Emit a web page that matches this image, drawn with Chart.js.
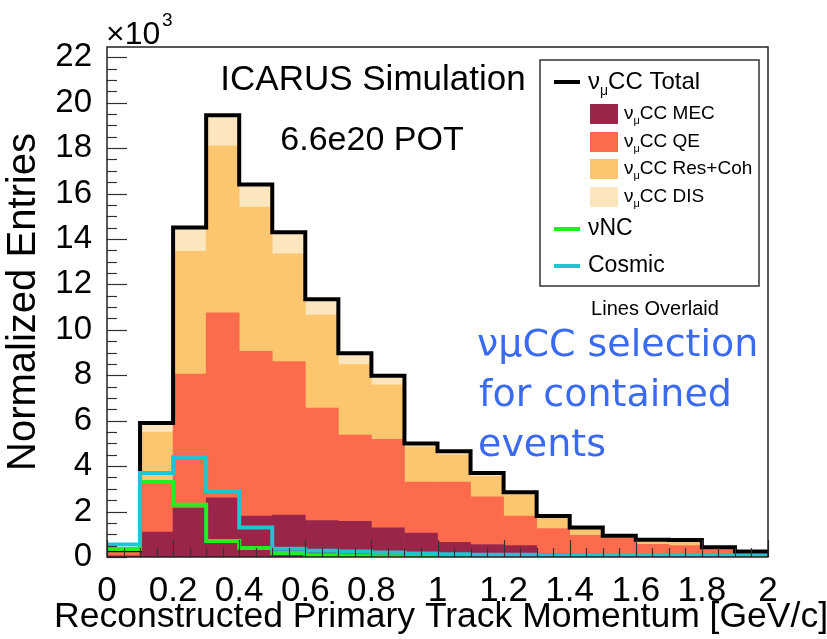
<!DOCTYPE html>
<html>
<head>
<meta charset="utf-8">
<title>ICARUS numu CC momentum</title>
<script src="https://cdn.jsdelivr.net/npm/chart.js@4.4.1/dist/chart.umd.min.js"></script>
<style>
  html, body { margin: 0; padding: 0; background: #fff; }
  canvas { display: block; }
</style>
</head>
<body>
<canvas id="momentumChart" width="827" height="639"></canvas>
<script>
// lower bin edges of the reconstructed momentum [GeV/c]
const binLow = [0.0, 0.1, 0.2, 0.3, 0.4, 0.5, 0.6, 0.7, 0.8, 0.9,
                1.0, 1.1, 1.2, 1.3, 1.4, 1.5, 1.6, 1.7, 1.8, 1.9];
const binWidth = 0.1;
const yTickValues = [0, 2, 4, 6, 8, 10, 12, 14, 16, 18, 20, 22];

// entries per bin, x10^3
const mecCC    = [0.05, 1.1, 2.15, 2.6, 1.8, 1.85, 1.6, 1.57, 1.28, 1.05, 0.65, 0.55, 0.5, 0.15, 0.1, 0.08, 0.06, 0.05, 0.03, 0.02];
const qeCC     = [0.15, 2.2, 5.9, 8.15, 7.25, 6.75, 4.95, 3.8, 3.9, 2.25, 2.65, 2.1, 1.3, 1.1, 0.85, 0.75, 0.5, 0.45, 0.3, 0.12];
const resCohCC = [0.1, 2.2, 5.4, 7.35, 6.35, 4.75, 4.1, 3.1, 2.4, 1.55, 1.2, 0.9, 0.95, 0.45, 0.3, 0.1, 0.2, 0.25, 0.1, 0.1];
const disCC    = [0.0, 0.4, 1.05, 1.35, 1.0, 0.95, 0.7, 0.5, 0.4, 0.15, 0.15, 0.15, 0.1, 0.1, 0.05, 0.0, 0.0, 0.0, 0.0, 0.0];
const totalCC  = [0.3, 5.9, 14.5, 19.45, 16.4, 14.3, 11.35, 8.97, 7.98, 5.0, 4.65, 3.7, 2.85, 1.8, 1.3, 0.93, 0.76, 0.75, 0.43, 0.24];
const ncLine     = [0.35, 3.3, 2.3, 0.7, 0.4, 0.18, 0.08, 0.05, 0.03, 0.02, 0.01, 0.01, 0, 0, 0, 0, 0, 0, 0, 0];
const cosmicLine = [0.55, 3.7, 4.4, 2.9, 1.3, 0.36, 0.28, 0.24, 0.2, 0.15, 0.12, 0.1, 0.1, 0.08, 0.07, 0.06, 0.05, 0.05, 0.05, 0.04];

const yMax = 22.45;
const FONT = '"Liberation Sans", Arial, Helvetica, sans-serif';

function barData(vals) {
  return binLow.map((lo, i) => ({ x: lo + binWidth / 2, y: vals[i] }));
}

// histogram outline: one point per left edge, last value carried to the upper edge
function stepData(vals) {
  const pts = binLow.map((lo, i) => ({ x: lo, y: vals[i] }));
  pts.push({ x: binLow[binLow.length - 1] + binWidth, y: vals[vals.length - 1] });
  return pts;
}

function barSet(label, vals, color, order) {
  return {
    type: 'bar', label, data: barData(vals), backgroundColor: color,
    borderWidth: 0, barPercentage: 1, categoryPercentage: 1,
    yAxisID: 'y', order
  };
}

function lineSet(label, vals, color, order) {
  return {
    type: 'line', label, data: stepData(vals), borderColor: color,
    borderWidth: 4, stepped: 'before', pointRadius: 0, fill: false,
    yAxisID: 'yLine', order
  };
}

const datasets = [
  lineSet('νμCC Total', totalCC, '#000000', 2),
  barSet('νμCC MEC', mecCC, '#9a2549', 3),
  barSet('νμCC QE', qeCC, '#fc6c4c', 4),
  barSet('νμCC Res+Coh', resCohCC, '#fcc66e', 5),
  barSet('νμCC DIS', disCC, '#fde6bd', 6),
  lineSet('νNC', ncLine, '#22ee22', 1),
  lineSet('Cosmic', cosmicLine, '#22c4d2', 0)
];

// label text with a "νμ" prefix gets the μ drawn as a subscript
function drawLabel(ctx, text, x, y, size) {
  ctx.font = size + 'px ' + FONT;
  ctx.textBaseline = 'middle';
  ctx.textAlign = 'left';
  if (text.startsWith('νμ')) {
    ctx.fillText('ν', x, y);
    x += ctx.measureText('ν').width;
    ctx.font = Math.round(size * 0.6) + 'px ' + FONT;
    ctx.fillText('μ', x, y + size * 0.38);
    x += ctx.measureText('μ').width;
    ctx.font = size + 'px ' + FONT;
    ctx.fillText(text.slice(2), x, y);
  } else {
    ctx.fillText(text, x, y);
  }
}

const frameAndTicks = {
  id: 'frameAndTicks',
  afterDatasetsDraw(chart) {
    const { ctx, chartArea: a, scales: { x, y } } = chart;
    ctx.save();
    ctx.strokeStyle = '#333';
    ctx.lineWidth = 1.2;
    for (let k = 0; k <= 44; k++) {
      const py = Math.round(y.getPixelForValue(k * 0.5)) + 0.5;
      ctx.beginPath();
      ctx.moveTo(a.left, py);
      ctx.lineTo(a.left + (k % 4 === 0 ? 20 : 10), py);
      ctx.stroke();
    }
    for (let k = 0; k <= 40; k++) {
      const px = Math.round(x.getPixelForValue(k * 0.05)) + 0.5;
      ctx.beginPath();
      ctx.moveTo(px, a.bottom);
      ctx.lineTo(px, a.bottom - (k % 4 === 0 ? 17 : 9));
      ctx.stroke();
    }
    ctx.lineWidth = 1.5;
    ctx.strokeStyle = '#222';
    ctx.strokeRect(a.left, a.top, a.right - a.left, a.bottom - a.top);
    ctx.restore();
  }
};

const annotations = {
  id: 'annotations',
  afterDraw(chart) {
    const ctx = chart.ctx;
    const ds = chart.data.datasets;
    ctx.save();
    ctx.fillStyle = '#000';

    // axis multiplier
    ctx.font = '32px ' + FONT;
    ctx.textBaseline = 'alphabetic';
    ctx.textAlign = 'left';
    ctx.fillText('×10', 106, 44);
    ctx.font = '19px ' + FONT;
    ctx.fillText('3', 162, 26);

    // x-axis title runs wider than the plot, so it is placed here
    ctx.textAlign = 'center';
    ctx.font = '35.5px ' + FONT;
    ctx.fillText('Reconstructed Primary Track Momentum [GeV/c]', 441, 627);

    ctx.font = '35px ' + FONT;
    ctx.fillText('ICARUS Simulation', 373, 90);
    ctx.font = '34px ' + FONT;
    ctx.fillText('6.6e20 POT', 372, 150);

    // legend box
    ctx.fillStyle = '#fff';
    ctx.fillRect(540, 60, 219, 226);
    ctx.strokeStyle = '#333';
    ctx.lineWidth = 1.5;
    ctx.strokeRect(540, 60, 219, 226);

    const rows = [
      { set: ds[0], y: 82, size: 24 },
      { set: ds[1], y: 114, size: 19 },
      { set: ds[2], y: 142, size: 19 },
      { set: ds[3], y: 169, size: 19 },
      { set: ds[4], y: 197, size: 19 },
      { set: ds[5], y: 229, size: 23 },
      { set: ds[6], y: 266, size: 23 }
    ];
    rows.forEach(r => {
      if (r.set.type === 'line') {
        ctx.strokeStyle = r.set.borderColor;
        ctx.lineWidth = 4;
        ctx.beginPath();
        ctx.moveTo(554, r.y);
        ctx.lineTo(580, r.y);
        ctx.stroke();
        ctx.fillStyle = '#000';
        drawLabel(ctx, r.set.label, 588, r.y, r.size);
      } else {
        ctx.fillStyle = r.set.backgroundColor;
        ctx.fillRect(590, r.y - 10, 28, 20);
        ctx.fillStyle = '#000';
        drawLabel(ctx, r.set.label, 624, r.y, r.size);
      }
    });

    ctx.fillStyle = '#000';
    ctx.textAlign = 'center';
    ctx.textBaseline = 'middle';
    ctx.font = '20px ' + FONT;
    ctx.fillText('Lines Overlaid', 655, 309);

    // selection note
    ctx.fillStyle = '#3a6af0';
    ctx.textAlign = 'left';
    ctx.textBaseline = 'alphabetic';
    ctx.font = '38px "DejaVu Sans", sans-serif';
    ctx.fillText('νμCC selection', 477, 356);
    ctx.fillText('for contained', 479, 406);
    ctx.fillText('events', 478, 456);
    ctx.restore();
  }
};

new Chart(document.getElementById('momentumChart').getContext('2d'), {
  data: { datasets },
  options: {
    responsive: false,
    animation: false,
    devicePixelRatio: 1,
    layout: { padding: { left: 0, right: 59, top: 47, bottom: 0 } },
    plugins: {
      legend: { display: false },
      tooltip: { enabled: false },
      title: { display: false }
    },
    scales: {
      x: {
        type: 'linear', min: 0, max: 2, offset: false, stacked: true,
        grid: { display: false, offset: false },
        border: { display: false },
        ticks: {
          stepSize: 0.2, autoSkip: false, maxRotation: 0, padding: 5,
          color: '#000', font: { family: FONT, size: 35 },
          callback: v => String(Math.round(v * 10) / 10)
        },
        title: { display: false },
        afterFit: scale => { scale.height = 82; }
      },
      y: {
        type: 'linear', min: 0, max: yMax, stacked: true,
        grid: { display: false },
        border: { display: false },
        ticks: {
          padding: 7, color: '#000',
          font: { family: FONT, size: 33 }
        },
        afterBuildTicks: scale => {
          scale.ticks = yTickValues.map(v => ({ value: v }));
        },
        title: {
          display: true, text: 'Normalized Entries',
          color: '#000', font: { family: FONT, size: 40 },
          padding: { top: 0, bottom: 0 }
        },
        afterFit: scale => { scale.width = 107; }
      },
      yLine: {
        type: 'linear', min: 0, max: yMax, display: false
      }
    }
  },
  plugins: [frameAndTicks, annotations]
});
</script>
</body>
</html>
